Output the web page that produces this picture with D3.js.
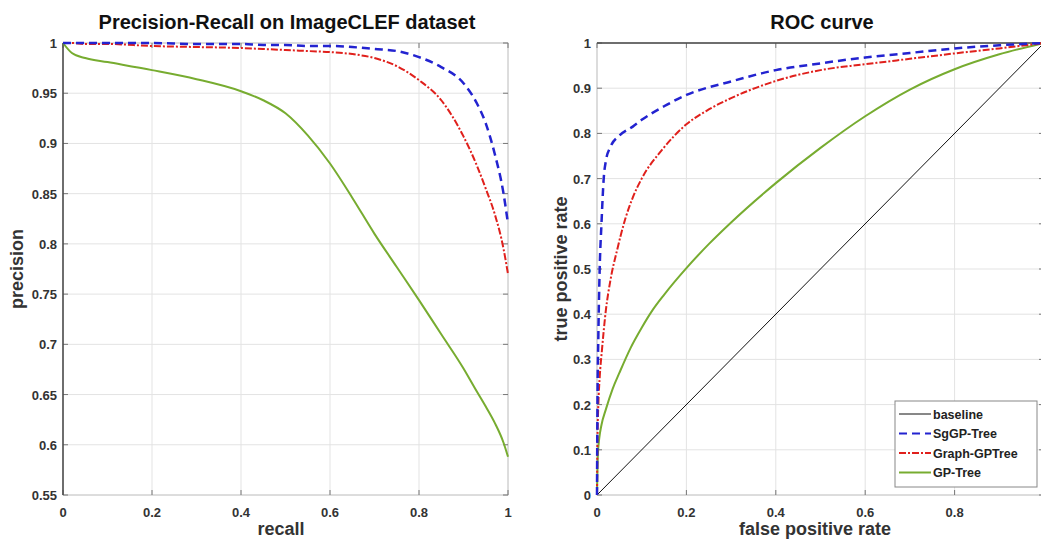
<!DOCTYPE html>
<meta charset="utf-8">
<script src="https://d3js.org/d3.v7.min.js"></script>
<style>
  body { margin: 0; background: #fff; }
  text { font-family: "Liberation Sans", Arial, sans-serif; }
</style>
<div id="chart"></div>
<script>

// ---- data ----
// precision-recall
const prRecall = [0, 0.02, 0.05, 0.1, 0.2, 0.3, 0.4, 0.45, 0.5, 0.55, 0.6, 0.65, 0.7, 0.75, 0.8, 0.85, 0.9, 0.93, 0.95, 0.97, 0.99, 1]
const prSgGP   = [1, 1, 1, 1, 1, 0.999, 0.999, 0.998, 0.998, 0.997, 0.997, 0.996, 0.994, 0.992, 0.986, 0.976, 0.96, 0.94, 0.92, 0.89, 0.85, 0.82]
const prGraph  = [1, 1, 0.999, 0.999, 0.997, 0.996, 0.995, 0.994, 0.993, 0.992, 0.991, 0.989, 0.985, 0.977, 0.963, 0.943, 0.907, 0.878, 0.855, 0.83, 0.795, 0.77]
const prGP     = [1, 0.99, 0.985, 0.981, 0.973, 0.964, 0.952, 0.943, 0.93, 0.908, 0.88, 0.846, 0.81, 0.777, 0.744, 0.71, 0.676, 0.653, 0.638, 0.622, 0.602, 0.588]

// ROC
const rocFprSgGP = [0, 0.001, 0.003, 0.006, 0.01, 0.015, 0.02, 0.03, 0.05, 0.08, 0.1, 0.15, 0.2, 0.3, 0.4, 0.5, 0.6, 0.7, 0.8, 0.9, 1]
const rocTprSgGP = [0, 0.2, 0.35, 0.5, 0.6, 0.7, 0.74, 0.77, 0.795, 0.815, 0.83, 0.86, 0.885, 0.915, 0.94, 0.955, 0.968, 0.978, 0.988, 0.995, 1]
const rocFprGraph = [0, 0.001, 0.003, 0.006, 0.011, 0.02, 0.03, 0.045, 0.063, 0.08, 0.1, 0.145, 0.2, 0.25, 0.3, 0.4, 0.5, 0.6, 0.7, 0.8, 0.9, 1]
const rocTprGraph = [0, 0.12, 0.2, 0.26, 0.32, 0.41, 0.475, 0.542, 0.61, 0.658, 0.7, 0.763, 0.82, 0.853, 0.878, 0.916, 0.94, 0.953, 0.965, 0.977, 0.988, 1]
const rocFprGP = [0, 0.002, 0.005, 0.01, 0.02, 0.035, 0.05, 0.075, 0.1, 0.125, 0.15, 0.2, 0.25, 0.3, 0.4, 0.5, 0.6, 0.7, 0.8, 0.9, 1]
const rocTprGP = [0, 0.09, 0.125, 0.155, 0.19, 0.235, 0.27, 0.325, 0.37, 0.41, 0.443, 0.502, 0.555, 0.603, 0.69, 0.768, 0.838, 0.897, 0.942, 0.975, 1]
const rocBaseline = [0, 1]

const legendNames = ["baseline", "SgGP-Tree", "Graph-GPTree", "GP-Tree"]

const prXTicks = [0, 0.2, 0.4, 0.6, 0.8, 1]
const prYTicks = [0.55, 0.6, 0.65, 0.7, 0.75, 0.8, 0.85, 0.9, 0.95, 1]
const rocXTicks = [0, 0.2, 0.4, 0.6, 0.8, 1]
const rocXTickLabels = [0, 0.2, 0.4, 0.6, 0.8]   // "1" falls outside the picture
const rocYTicks = [0, 0.1, 0.2, 0.3, 0.4, 0.5, 0.6, 0.7, 0.8, 0.9, 1]

// ---- styles ----
const width = 1041, height = 539
const styles = {
  "baseline":     { color: "#111", width: 1, dash: null },
  "SgGP-Tree":    { color: "#2323d0", width: 2.5, dash: "8,5" },
  "Graph-GPTree": { color: "#e0201c", width: 2, dash: "7,2,2,2" },
  "GP-Tree":      { color: "#77ac30", width: 2, dash: null }
}

const svg = d3.select("#chart").append("svg")
  .attr("width", width)
  .attr("height", height)

function drawPanel(opt) {
  const x = d3.scaleLinear().domain(opt.xDomain).range([opt.left, opt.right])
  const y = d3.scaleLinear().domain(opt.yDomain).range([opt.bottom, opt.top])
  const g = svg.append("g")

  // grid
  g.selectAll(".gx").data(opt.xTicks).join("line")
    .attr("x1", d => x(d)).attr("x2", d => x(d))
    .attr("y1", opt.top).attr("y2", opt.bottom)
    .attr("stroke", "#e3e3e3").attr("stroke-width", 1)
  g.selectAll(".gy").data(opt.yTicks).join("line")
    .attr("x1", opt.left).attr("x2", opt.right)
    .attr("y1", d => y(d)).attr("y2", d => y(d))
    .attr("stroke", "#e3e3e3").attr("stroke-width", 1)

  // box
  g.append("rect")
    .attr("x", opt.left).attr("y", opt.top)
    .attr("width", opt.right - opt.left).attr("height", opt.bottom - opt.top)
    .attr("fill", "none").attr("stroke", "#c8c8c8")

  // inner ticks
  g.selectAll(".tl").data(opt.yTicks).join("line")
    .attr("x1", opt.left).attr("x2", opt.left + 5)
    .attr("y1", d => y(d)).attr("y2", d => y(d)).attr("stroke", "#777")
  g.selectAll(".tr").data(opt.yTicks).join("line")
    .attr("x1", opt.right).attr("x2", opt.right - 5)
    .attr("y1", d => y(d)).attr("y2", d => y(d)).attr("stroke", "#777")
  g.selectAll(".tb").data(opt.xTicks).join("line")
    .attr("x1", d => x(d)).attr("x2", d => x(d))
    .attr("y1", opt.bottom).attr("y2", opt.bottom - 5).attr("stroke", "#777")
  g.selectAll(".tt").data(opt.xTicks).join("line")
    .attr("x1", d => x(d)).attr("x2", d => x(d))
    .attr("y1", opt.top).attr("y2", opt.top + 5).attr("stroke", "#777")

  // dark edge
  if (opt.darkEdge === "left") {
    g.append("line").attr("x1", opt.left).attr("x2", opt.left)
      .attr("y1", opt.top).attr("y2", opt.bottom)
      .attr("stroke", "#4a4a4a").attr("stroke-width", 1.5)
  } else {
    g.append("line").attr("x1", opt.left).attr("x2", opt.right)
      .attr("y1", opt.top).attr("y2", opt.top)
      .attr("stroke", "#4a4a4a").attr("stroke-width", 1.5)
  }

  // tick labels
  g.selectAll(".lx").data(opt.xTickLabels || opt.xTicks).join("text")
    .attr("x", d => x(d)).attr("y", opt.bottom + 22)
    .attr("text-anchor", "middle")
    .attr("font-size", "13px").attr("font-weight", "bold").attr("fill", "#333")
    .text(d => d3.format("~g")(d))
  g.selectAll(".ly").data(opt.yTicks).join("text")
    .attr("x", opt.left - 6).attr("y", d => y(d) + 5)
    .attr("text-anchor", "end")
    .attr("font-size", "13px").attr("font-weight", "bold").attr("fill", "#333")
    .text(d => d3.format("~g")(d))

  // curves
  const line = d3.line()
    .x(d => x(d[0])).y(d => y(d[1]))
    .curve(d3.curveMonotoneX)
  opt.series.forEach(s => {
    const st = styles[s.name]
    g.append("path")
      .datum(d3.zip(s.xs, s.ys))
      .attr("d", line)
      .attr("fill", "none")
      .attr("stroke", st.color)
      .attr("stroke-width", st.width)
      .attr("stroke-dasharray", st.dash)
  })

  // title and axis labels
  g.append("text").attr("x", opt.titleX).attr("y", 29)
    .attr("text-anchor", "middle")
    .attr("font-size", "20px").attr("font-weight", "bold").attr("fill", "#111")
    .text(opt.title)
  g.append("text").attr("x", opt.xLabelX).attr("y", 535)
    .attr("text-anchor", "middle")
    .attr("font-size", "18px").attr("font-weight", "bold").attr("fill", "#333")
    .text(opt.xLabel)
  g.append("text")
    .attr("transform", `translate(${opt.yLabelX}, ${(opt.top + opt.bottom) / 2}) rotate(-90)`)
    .attr("text-anchor", "middle")
    .attr("font-size", "18px").attr("font-weight", "bold").attr("fill", "#333")
    .text(opt.yLabel)
  return { x, y, g }
}

drawPanel({
  left: 63, right: 508, top: 43, bottom: 495,
  xDomain: [0, 1], yDomain: [0.55, 1],
  xTicks: prXTicks, yTicks: prYTicks,
  darkEdge: "left",
  title: "Precision-Recall on ImageCLEF dataset", titleX: 287,
  xLabel: "recall", xLabelX: 281,
  yLabel: "precision", yLabelX: 23,
  series: [
    { name: "GP-Tree", xs: prRecall, ys: prGP },
    { name: "Graph-GPTree", xs: prRecall, ys: prGraph },
    { name: "SgGP-Tree", xs: prRecall, ys: prSgGP }
  ]
})

drawPanel({
  left: 597, right: 1044, top: 43, bottom: 495,
  xDomain: [0, 1], yDomain: [0, 1],
  xTicks: rocXTicks, xTickLabels: rocXTickLabels, yTicks: rocYTicks,
  darkEdge: "top",
  title: "ROC curve", titleX: 822,
  xLabel: "false positive rate", xLabelX: 815,
  yLabel: "true positive rate", yLabelX: 567,
  series: [
    { name: "baseline", xs: rocBaseline, ys: rocBaseline },
    { name: "GP-Tree", xs: rocFprGP, ys: rocTprGP },
    { name: "Graph-GPTree", xs: rocFprGraph, ys: rocTprGraph },
    { name: "SgGP-Tree", xs: rocFprSgGP, ys: rocTprSgGP }
  ]
})

// legend
const lg = svg.append("g").attr("transform", "translate(895, 401)")
lg.append("rect").attr("width", 142).attr("height", 86)
  .attr("fill", "#fff").attr("stroke", "#888")
lg.selectAll("line").data(legendNames).join("line")
  .attr("x1", 4).attr("x2", 36)
  .attr("y1", (d, i) => 13 + i * 19.5).attr("y2", (d, i) => 13 + i * 19.5)
  .attr("stroke", d => styles[d].color)
  .attr("stroke-width", d => Math.min(styles[d].width, 2))
  .attr("stroke-dasharray", d => styles[d].dash)
lg.selectAll("text").data(legendNames).join("text")
  .attr("x", 38).attr("y", (d, i) => 17.5 + i * 19.5)
  .attr("font-size", "12.5px").attr("font-weight", "bold").attr("fill", "#222")
  .text(d => d)
</script>
